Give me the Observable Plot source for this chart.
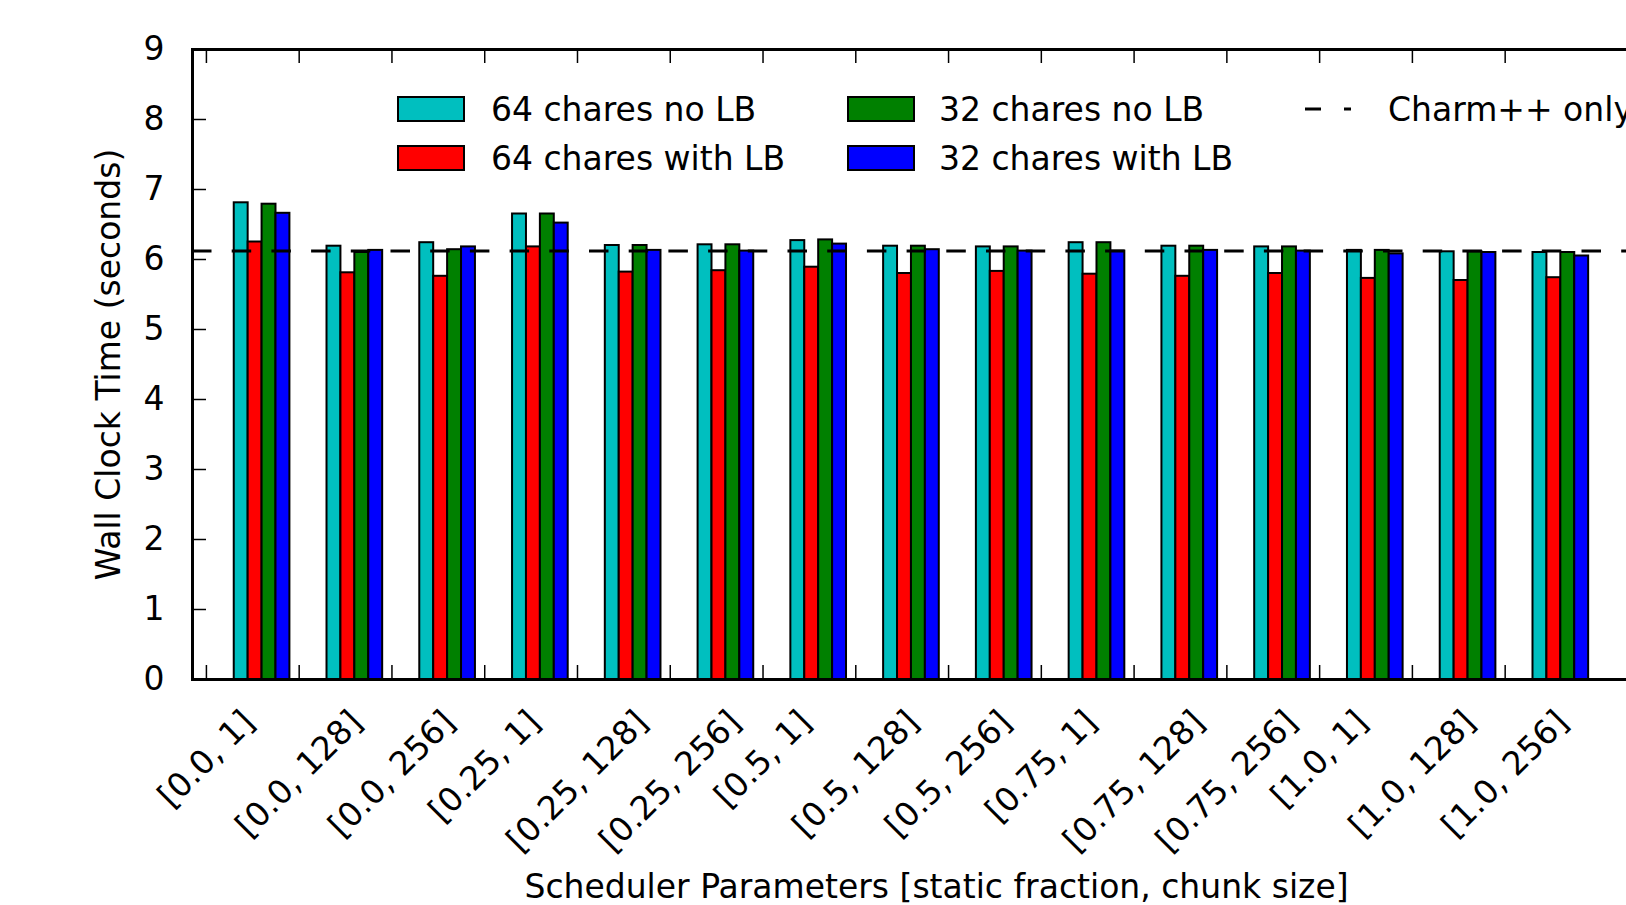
<!DOCTYPE html>
<html><head><meta charset="utf-8">
<script src="https://cdn.jsdelivr.net/npm/d3@7"></script>
<script src="https://cdn.jsdelivr.net/npm/@observablehq/plot@0.6"></script>
<style>
html,body{margin:0;padding:0;overflow:hidden;background:#fff;}
#wrap{position:relative;width:1626px;height:905px;overflow:hidden;font-family:"DejaVu Sans";}
#wrap svg.plot{position:absolute;left:0;top:0;max-width:none !important;}
.legtext{position:absolute;font-size:33px;line-height:33px;white-space:nowrap;color:#000;font-family:"DejaVu Sans";}
.legpatch{position:absolute;box-sizing:border-box;border:2px solid #000;}
</style></head><body><div id="wrap"></div>
<script>
const categories = ["[0.0, 1]","[0.0, 128]","[0.0, 256]","[0.25, 1]","[0.25, 128]","[0.25, 256]","[0.5, 1]","[0.5, 128]","[0.5, 256]","[0.75, 1]","[0.75, 128]","[0.75, 256]","[1.0, 1]","[1.0, 128]","[1.0, 256]"];
const seriesNames = ["64 chares no LB","64 chares with LB","32 chares no LB","32 chares with LB"];
const seriesColors = ["#00bfbf","#ff0000","#008000","#0000ff"];
const chares64NoLB   = [6.81,6.19,6.24,6.65,6.20,6.21,6.27,6.19,6.18,6.24,6.19,6.18,6.13,6.11,6.10];
const chares64WithLB = [6.25,5.81,5.76,6.18,5.82,5.84,5.89,5.80,5.83,5.79,5.76,5.80,5.73,5.70,5.74];
const chares32NoLB   = [6.79,6.10,6.14,6.65,6.20,6.21,6.28,6.19,6.18,6.24,6.19,6.18,6.13,6.11,6.10];
const chares32WithLB = [6.66,6.13,6.18,6.52,6.13,6.12,6.22,6.14,6.12,6.12,6.13,6.12,6.08,6.10,6.05];
const charmOnly = 6.12;
const charmLabel = "Charm++ only";
const yTicks = [0,1,2,3,4,5,6,7,8,9];
const xLabel = "Scheduler Parameters [static fraction, chunk size]";
const yLabel = "Wall Clock Time (seconds)";

const FS = 33;
const seriesValues = [chares64NoLB, chares64WithLB, chares32NoLB, chares32WithLB];
const barWidth = 0.15, barStart = 0.3;
const barsBySeries = seriesValues.map((vals, s) => vals.map((v, i) => ({
  i, v, x1: i + barStart + s * barWidth, x2: i + barStart + (s + 1) * barWidth
})));

const W = 1720, H = 905, mL = 192, mR = 40, mT = 49, mB = 226;
const plotW = W - mL - mR, plotH = H - mT - mB;
const tickLen = 14;

// measure tick-label widths so the rotated labels hang below the axis (centered on the tick)
const ctx = document.createElement("canvas").getContext("2d");
ctx.font = FS + "px 'DejaVu Sans'";
const labelDy = categories.map(c => 27 + 0.7071 * (ctx.measureText(c).width / 2 + 0.44 * FS));

const chart = Plot.plot({
  width: W, height: H,
  marginLeft: mL, marginRight: mR, marginTop: mT, marginBottom: mB,
  style: {fontFamily: "DejaVu Sans", fontSize: FS + "px", background: "white", color: "black", maxWidth: "none"},
  x: {domain: [-0.15, 15.89], axis: null},
  y: {domain: [0, 9], axis: null},
  marks: [
    ...barsBySeries.map((bars, s) => Plot.rectY(bars, {
      x1: "x1", x2: "x2", y1: 0, y2: "v",
      fill: seriesColors[s], stroke: "black", strokeWidth: 2
    })),
    Plot.ruleY([charmOnly], {stroke: "black", strokeWidth: 3, strokeDasharray: "19.5,20.2"}),
    Plot.tickY(yTicks, {y: d => d, stroke: "black", strokeWidth: 1.5, insetRight: plotW - tickLen}),
    Plot.tickX(categories, {x: (d, i) => i, stroke: "black", strokeWidth: 1.5, insetTop: plotH - tickLen}),
    Plot.tickX(categories, {x: (d, i) => i, stroke: "black", strokeWidth: 1.5, insetBottom: plotH - tickLen}),
    Plot.frame({stroke: "black", strokeWidth: 3}),
    Plot.axisY(yTicks, {tickSize: 0, tickPadding: 28, fontSize: FS, label: null, tickFormat: d => String(d)}),
    ...categories.map((c, i) => Plot.text([c], {x: i, y: 0, rotate: -45, textAnchor: "middle",
      dy: labelDy[i], fontSize: FS, fill: "black"})),
    Plot.text([xLabel], {frameAnchor: "bottom", dy: 218, fontSize: FS, fill: "black"}),
    Plot.text([yLabel], {frameAnchor: "left", textAnchor: "middle", rotate: -90, dx: -83, fontSize: FS, fill: "black"})
  ]
});
chart.classList.add("plot");
chart.style.maxWidth = "none";
const wrap = document.getElementById("wrap");
wrap.appendChild(chart);

// legend (inside the plot area, no frame)
const legCols = [{patch: 397, text: 491}, {patch: 847, text: 939}];
const legRows = [109, 157.5];
const legOrder = [[0, 0, 0], [1, 0, 1], [2, 1, 0], [3, 1, 1]]; // series, col, row
for (const [s, c, r] of legOrder) {
  const p = document.createElement("div");
  p.className = "legpatch";
  Object.assign(p.style, {left: legCols[c].patch + "px", top: (legRows[r] - 13) + "px",
    width: "68px", height: "26px", background: seriesColors[s]});
  wrap.appendChild(p);
  const t = document.createElement("div");
  t.className = "legtext";
  t.textContent = seriesNames[s];
  Object.assign(t.style, {left: legCols[c].text + "px", top: (legRows[r] - 16) + "px"});
  wrap.appendChild(t);
}
const ns = "http://www.w3.org/2000/svg";
const dsvg = document.createElementNS(ns, "svg");
dsvg.setAttribute("width", 60); dsvg.setAttribute("height", 10);
Object.assign(dsvg.style, {position: "absolute", left: "1303px", top: (legRows[0] - 5) + "px"});
const dl = document.createElementNS(ns, "line");
dl.setAttribute("x1", 2); dl.setAttribute("x2", 48); dl.setAttribute("y1", 5); dl.setAttribute("y2", 5);
dl.setAttribute("stroke", "black"); dl.setAttribute("stroke-width", 3); dl.setAttribute("stroke-dasharray", "16,23");
dsvg.appendChild(dl);
wrap.appendChild(dsvg);
const ct = document.createElement("div");
ct.className = "legtext";
ct.textContent = charmLabel;
Object.assign(ct.style, {left: "1388px", top: (legRows[0] - 16) + "px"});
wrap.appendChild(ct);
</script></body></html>
